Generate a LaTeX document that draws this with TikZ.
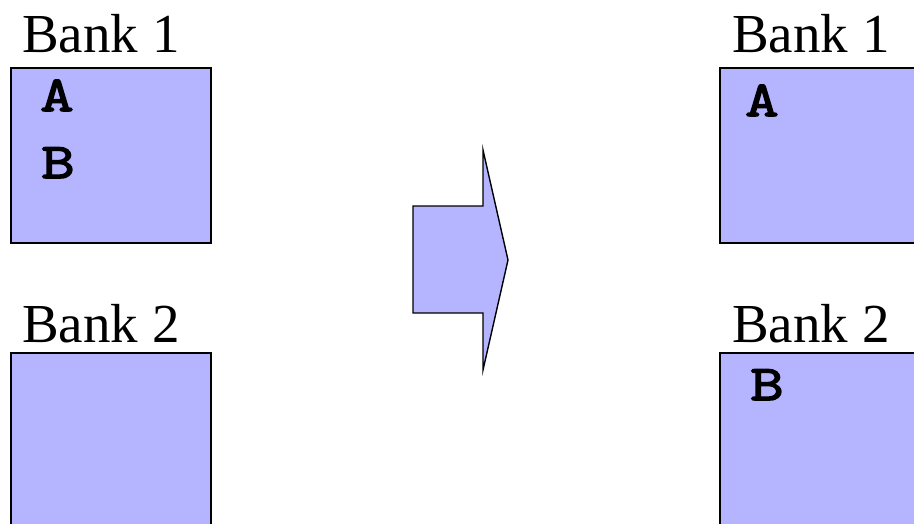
\documentclass[tikz,border=0pt]{standalone}
\usepackage{fontspec}
\setmainfont{Liberation Serif}
\newfontfamily\codefont[FakeBold=3,FakeStretch=1.3]{Latin Modern Mono}
\definecolor{bankfill}{RGB}{180,180,255}
\begin{document}
\begin{tikzpicture}[x=1pt,y=-1pt,
  bankbox/.style={draw=black,fill=bankfill,line width=1.6pt},
  banklabel/.style={anchor=base west,inner sep=0pt,font=\fontsize{55}{60}\selectfont},
  item/.style={anchor=base west,inner sep=0pt,font=\codefont\fontsize{50}{55}\selectfont},
  bigarrow/.style={draw=black,fill=bankfill,line width=1.4pt,line join=miter}]
\useasboundingbox (0,0) rectangle (914,523);
\clip (0,0) rectangle (914,523);
% left column
\node[banklabel] (lb1) at (22,52) {Bank 1};
\draw[bankbox] (11,68) rectangle (211,243);
\node[item] (la) at (40,111) {A};
\node[item] (lb) at (41,178) {B};
\node[banklabel] (lb2) at (22,342) {Bank 2};
\draw[bankbox] (11,353) rectangle (211,540);
% arrow
\draw[bigarrow] (413,206) -- (483,206) -- (483,150) -- (508,260) -- (483,370) -- (483,313) -- (413,313) -- cycle;
% right column
\node[banklabel] (rb1) at (732,52) {Bank 1};
\draw[bankbox] (720,68) rectangle (940,243);
\node[item] (ra) at (745,116) {A};
\node[banklabel] (rb2) at (732,342) {Bank 2};
\draw[bankbox] (720,353) rectangle (940,540);
\node[item] (rbb) at (750,400) {B};
\end{tikzpicture}
\end{document}
